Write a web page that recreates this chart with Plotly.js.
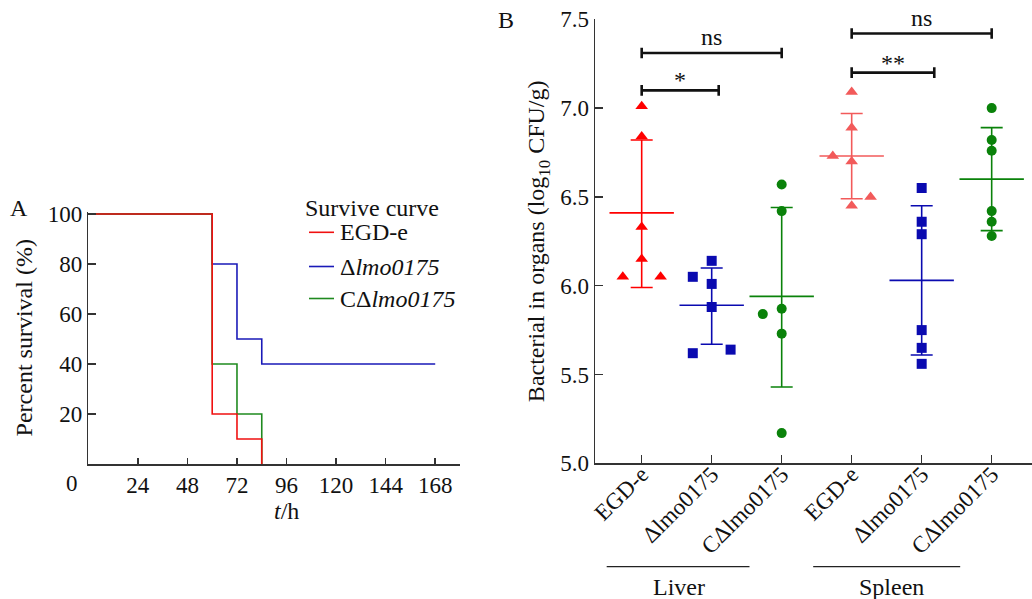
<!DOCTYPE html>
<html><head><meta charset="utf-8">
<script src="https://cdn.plot.ly/plotly-3.0.1.min.js"></script>
<style>html,body{margin:0;padding:0;background:#fff}#chart{width:1032px;height:599px}</style>
</head><body><div id="chart"></div>
<script>
// ---------- Panel A: survival curves ----------
const egdTime = [0, 60, 72, 84];
const egdSurv = [100, 20, 10, 0];
const delTime = [0, 60, 72, 84, 168];
const delSurv = [100, 80, 50, 40, 40];
const compTime = [0, 60, 72, 84];
const compSurv = [100, 40, 20, 0];
const hourTicks = [24, 48, 72, 96, 120, 144, 168];
const survTicks = [20, 40, 60, 80, 100];
const curveNames = ['EGD-e', 'Δ<i>lmo0175</i>', 'CΔ<i>lmo0175</i>'];

// ---------- Panel B: bacterial load ----------
const groupLabels = ['EGD-e', 'Δlmo0175', 'CΔlmo0175', 'EGD-e', 'Δlmo0175', 'CΔlmo0175'];
const liverEGDe   = [7.01, 6.84, 6.33, 6.15, 6.05, 6.05];
const liverDelta  = [6.14, 6.05, 6.01, 5.88, 5.62, 5.64];
const liverComp   = [6.57, 6.42, 5.84, 5.87, 5.73, 5.17];
const spleenEGDe  = [7.09, 6.89, 6.73, 6.70, 6.50, 6.45];
const spleenDelta = [6.55, 6.36, 6.29, 5.75, 5.65, 5.56];
const spleenComp  = [7.00, 6.82, 6.76, 6.42, 6.36, 6.28];
// horizontal spread of overlapping dots (in category units)
const jitterLiverEGDe  = [0, 0, 0, 0, -0.27, 0.27];
const jitterLiverDelta = [0, -0.27, 0, 0, -0.27, 0.27];
const jitterLiverComp  = [0, 0, -0.27, 0, 0, 0];
const jitterSpleenEGDe = [0, 0, -0.27, 0, 0.27, 0];
const jitterNone       = [0, 0, 0, 0, 0, 0];
const groupMeans = [6.41, 5.89, 5.94, 6.73, 6.03, 6.60];
const groupSdHigh = [6.82, 6.10, 6.44, 6.97, 6.45, 6.89];
const groupSdLow  = [5.99, 5.67, 5.43, 6.49, 5.61, 6.31];
const sigFrom  = [0, 0, 3, 3];
const sigTo    = [1.1, 2, 4.18, 5];
const sigLevel = [7.10, 7.31, 7.20, 7.42];
const sigText  = ['*', 'ns', '**', 'ns'];

const FONT = '"Liberation Serif", "Times New Roman", serif';
const TXT = 24, TICK = 23;
const RED = '#f01010', BLUE = '#1a1ab8', GREEN = '#1f8a1f';
const PRED = '#ff0000', PRED2 = '#f25a5a', PBLUE = '#0a0ab0', PGREEN = '#0a820a';
const AXC = '#333333';

const traces = [];
// survival curves (blue, green, red order so red is on top)
[[delTime, delSurv, BLUE, 1], [compTime, compSurv, GREEN, 2], [egdTime, egdSurv, RED, 0]].forEach(([t, s, c, i]) => {
  traces.push({type: 'scatter', mode: 'lines', x: t, y: s, xaxis: 'x', yaxis: 'y',
    line: {color: c, width: 1.6, shape: 'hv'}, name: curveNames[i], showlegend: false, hoverinfo: 'x+y'});
});

// mean ± SD for each group
const groupColors = [PRED, PBLUE, PGREEN, PRED2, PBLUE, PGREEN];
groupMeans.forEach((m, i) => {
  traces.push({type: 'scatter', mode: 'markers', x: [i], y: [m], xaxis: 'x2', yaxis: 'y2', showlegend: false,
    marker: {symbol: 'line-ew', size: 46, color: groupColors[i], line: {color: groupColors[i], width: 1.6}},
    error_y: {type: 'data', symmetric: false, array: [groupSdHigh[i] - m], arrayminus: [m - groupSdLow[i]],
      color: groupColors[i], thickness: 1.6, width: 11}, cliponaxis: false});
});

// individual points
const pointSets = [
  [liverEGDe, jitterLiverEGDe, 'triangle-up', PRED],
  [liverDelta, jitterLiverDelta, 'square', PBLUE],
  [liverComp, jitterLiverComp, 'circle', PGREEN],
  [spleenEGDe, jitterSpleenEGDe, 'triangle-up', PRED2],
  [spleenDelta, jitterNone, 'square', PBLUE],
  [spleenComp, jitterNone, 'circle', PGREEN]
];
pointSets.forEach(([vals, jit, sym, col], i) => {
  traces.push({type: 'scatter', mode: 'markers', xaxis: 'x2', yaxis: 'y2', showlegend: false,
    x: vals.map((v, k) => i + jit[k]), y: vals,
    marker: {symbol: sym, size: sym === 'triangle-up' ? 11 : 10, color: col}, cliponaxis: false});
});

const shapes = [];
const annotations = [];
function note(x, y, text, xanchor, extra) {
  return Object.assign({xref: 'paper', yref: 'paper', x: x / 1032, y: 1 - y / 599, text: text, showarrow: false,
    xanchor: xanchor || 'center', yanchor: 'middle', font: {family: FONT, size: TXT, color: '#111'}}, extra || {});
}
// significance brackets
sigFrom.forEach((a, i) => {
  const b = sigTo[i], yv = sigLevel[i], cap = 0.03;
  const L = {color: '#111', width: 2.6};
  shapes.push({type: 'line', xref: 'x2', yref: 'y2', x0: a, x1: b, y0: yv, y1: yv, line: L});
  shapes.push({type: 'line', xref: 'x2', yref: 'y2', x0: a, x1: a, y0: yv - cap, y1: yv + cap, line: L});
  shapes.push({type: 'line', xref: 'x2', yref: 'y2', x0: b, x1: b, y0: yv - cap, y1: yv + cap, line: L});
  annotations.push({xref: 'x2', yref: 'y2', x: (a + b) / 2, y: yv, text: sigText[i], showarrow: false,
    xanchor: 'center', yanchor: 'bottom', yshift: sigText[i] === 'ns' ? 1 : -5,
    font: {family: FONT, size: TXT, color: '#111'}});
});
// organ group underlines
[[-0.5, 1.54, 0.535, 'Liver'], [2.45, 4.55, 3.575, 'Spleen']].forEach(([a, b, c, t]) => {
  shapes.push({type: 'line', xref: 'x2', yref: 'paper', x0: a, x1: b, y0: 1 - 566.7 / 599, y1: 1 - 566.7 / 599,
    line: {color: '#222', width: 1.3}});
  annotations.push({xref: 'x2', yref: 'paper', x: c, y: 1 - 587 / 599, text: t, showarrow: false,
    xanchor: 'center', yanchor: 'middle', font: {family: FONT, size: TXT, color: '#111'}});
});

// legend for panel A (drawn by hand)
annotations.push(note(303, 208, 'Survive curve', 'left'));
[[RED, 232.3, 0], [BLUE, 266.5, 1], [GREEN, 298.5, 2]].forEach(([c, yy, i]) => {
  shapes.push({type: 'line', xref: 'paper', yref: 'paper', x0: 309 / 1032, x1: 334 / 1032,
    y0: 1 - yy / 599, y1: 1 - yy / 599, line: {color: c, width: 1.6}});
  annotations.push(note(338, yy, curveNames[i], 'left'));
});
// panel letters, origin label, x title of A
annotations.push(note(18.5, 208, 'A'));
annotations.push(note(506, 20, 'B'));
annotations.push(note(72, 483, '0', 'center', {font: {family: FONT, size: TICK, color: '#111'}}));
annotations.push(note(286, 511, '<i>t</i>/h'));

const yA0 = 464, pxPerPct = 2.5;
const axBase = {ticks: 'inside', tickcolor: AXC, tickwidth: 1.5, showline: true, linecolor: AXC, linewidth: 1.5,
  showgrid: false, zeroline: false, tickfont: {family: FONT, size: TICK, color: '#111'}, fixedrange: true};
const layout = {
  width: 1032, height: 599, margin: {l: 0, r: 0, t: 0, b: 0}, paper_bgcolor: '#fff', plot_bgcolor: '#fff',
  font: {family: FONT, size: TXT, color: '#111'}, showlegend: false,
  xaxis: Object.assign({}, axBase, {domain: [88.3 / 1032, 460 / 1032], range: [0, 180], tickvals: hourTicks,
    ticklen: 6, anchor: 'y'}),
  yaxis: Object.assign({}, axBase, {domain: [1 - yA0 / 599, 1 - (yA0 - 101 * pxPerPct) / 599], range: [0, 101],
    tickvals: survTicks, ticklen: 8, anchor: 'x',
    title: {text: 'Percent survival (%)', font: {family: FONT, size: TXT, color: '#111'}, standoff: 8}}),
  xaxis2: Object.assign({}, axBase, {domain: [595 / 1032, 1], range: [-0.667, 5.576], tickvals: [0, 1, 2, 3, 4, 5],
    ticktext: groupLabels, tickangle: -45, ticklen: 8, ticklabelstandoff: -13, anchor: 'y2'}),
  yaxis2: Object.assign({}, axBase, {domain: [1 - 463.3 / 599, 1 - 19.3 / 599], range: [5, 7.5],
    tickvals: [5, 5.5, 6, 6.5, 7, 7.5], ticktext: ['5.0', '5.5', '6.0', '6.5', '7.0', '7.5'], ticklen: 8, anchor: 'x2',
    title: {text: 'Bacterial in organs (log<sub>10</sub> CFU/g)', font: {family: FONT, size: TXT, color: '#111'}, standoff: 8}}),
  shapes: shapes, annotations: annotations
};
Plotly.newPlot('chart', traces, layout, {displayModeBar: false, staticPlot: true});
</script></body></html>
